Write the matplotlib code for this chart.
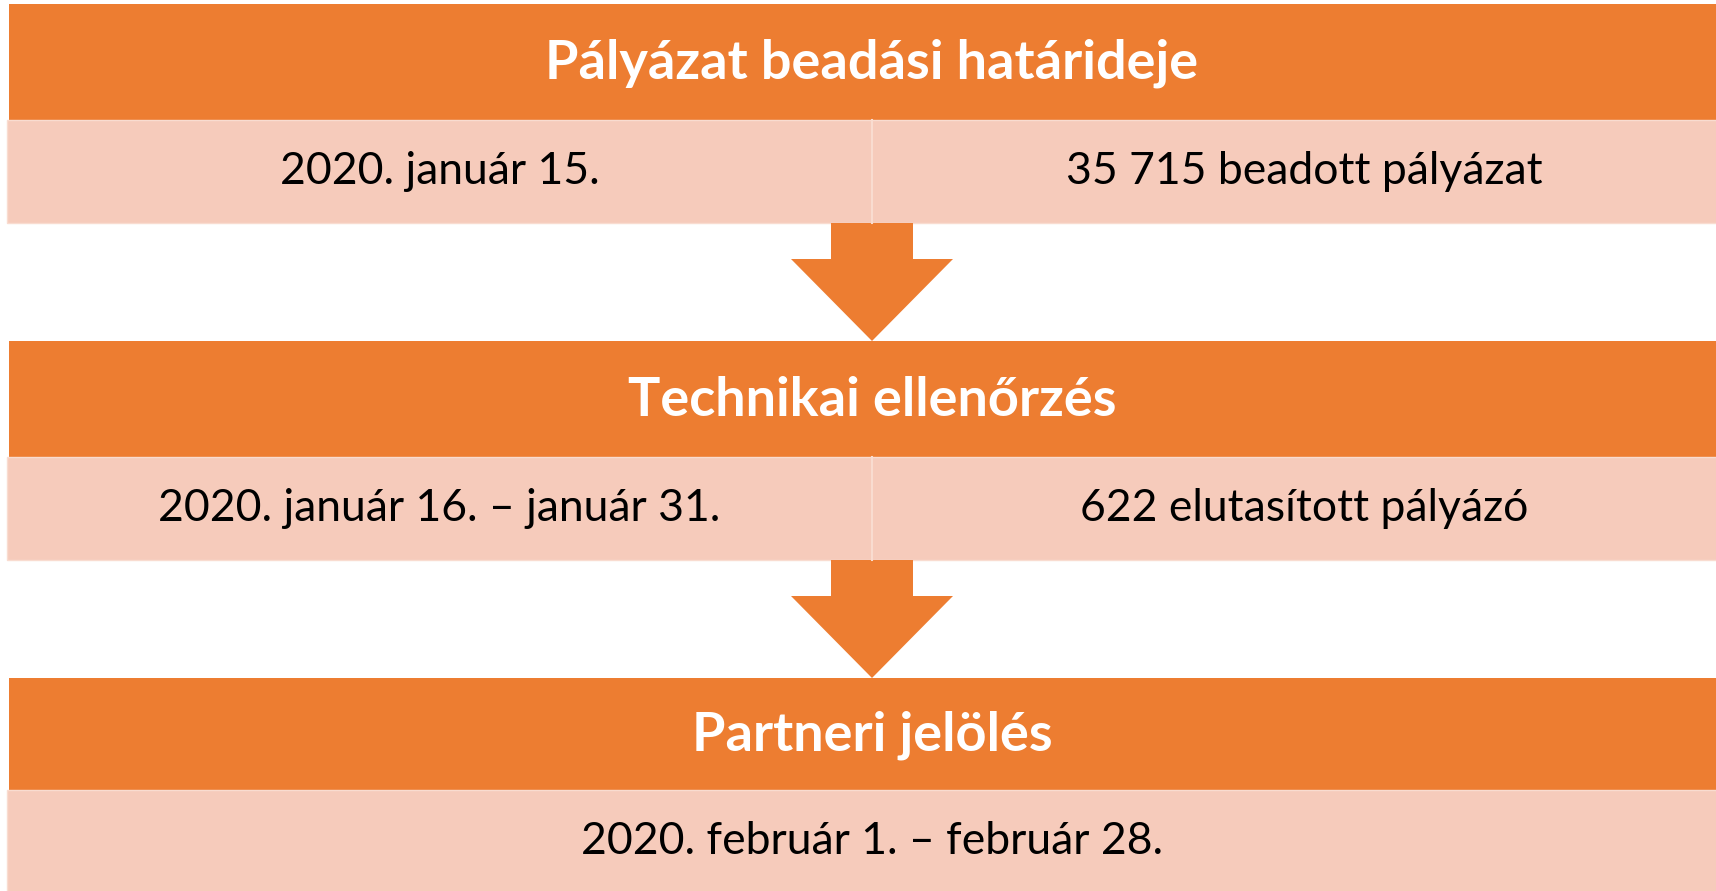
import matplotlib.pyplot as plt
from matplotlib.patches import Rectangle, Polygon

# stage headers and the facts under each one
headers = ["Pályázat beadási határideje", "Technikai ellenőrzés", "Partneri jelölés"]
dates = ["2020. január 15.", "2020. január 16. – január 31.", "2020. február 1. – február 28."]
facts = ["35 715 beadott pályázat", "622 elutasított pályázó", None]

ORANGE = "#ED7D31"
LIGHT = "#F6CBBB"

W, H = 1716, 891
fig = plt.figure(figsize=(W / 100, H / 100), dpi=100)
ax = fig.add_axes([0, 0, 1, 1])
ax.set_xlim(0, W)
ax.set_ylim(H, 0)
ax.axis("off")

left, right, mid = 9, 1736, 872
step = 337
for i, (head, date, fact) in enumerate(zip(headers, dates, facts)):
    y0 = 4 + i * step
    hh = 116 if i < 2 else 112
    ax.add_patch(Rectangle((left, y0), right - left, hh, color=ORANGE, lw=0))
    ax.text(mid, y0 + hh / 2 + 1, head, ha="center", va="center", color="white",
            fontsize=39, fontweight="bold", family="Lato")
    by = y0 + hh
    bh = 103
    ax.add_patch(Rectangle((7, by), right - 7, bh, facecolor=LIGHT,
                           edgecolor="#F9DCD0", lw=1))
    if fact is None:
        ax.text(mid, by + bh / 2, date, ha="center", va="center", color="black",
                fontsize=32, family="Lato")
    else:
        ax.plot([mid, mid], [by, by + bh], color="#F9DCD0", lw=1.5)
        ax.text((7 + mid) / 2, by + bh / 2, date, ha="center", va="center",
                color="black", fontsize=32, family="Lato")
        ax.text((mid + right) / 2, by + bh / 2, fact, ha="center", va="center",
                color="black", fontsize=32, family="Lato")
        # down arrow to the next stage
        ay = by + bh
        ax.add_patch(Polygon([(831, ay), (913, ay), (913, ay + 36), (953, ay + 36),
                              (mid, ay + 118), (791, ay + 36), (831, ay + 36)],
                             closed=True, color=ORANGE, lw=0))

fig.savefig("out.png", dpi=100)
